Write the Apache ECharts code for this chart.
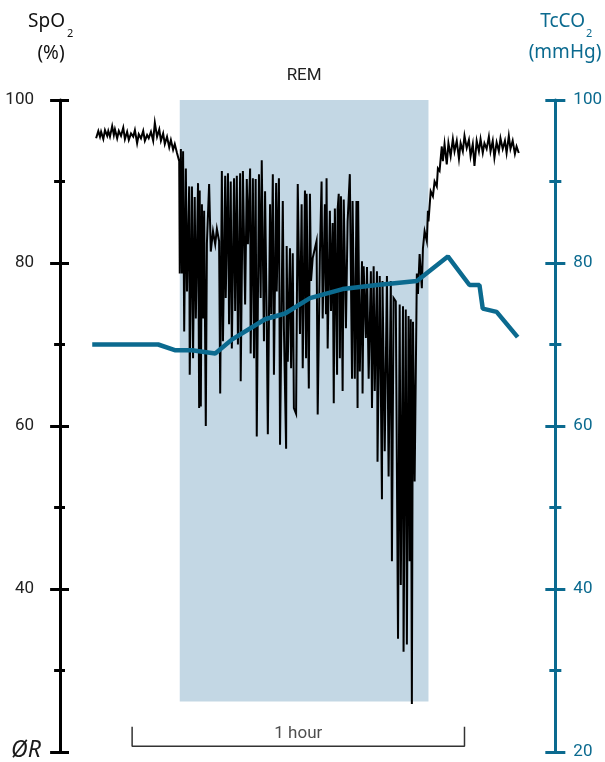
<!DOCTYPE html>
<html><head><meta charset="utf-8">
<script src="https://cdn.jsdelivr.net/npm/echarts@6/dist/echarts.min.js"></script>
<style>html,body{margin:0;padding:0;background:#fff}#c{width:605px;height:762px}</style>
</head><body><div id="c"></div>
<script>
// ---- data (time in minutes, SpO2 in %, TcCO2 in mmHg) ----
const yTickValues = [20, 40, 60, 80, 100];
const remPeriod = [21.6, 66.5];      // start / end of REM sleep (min)
const remLabel = 'REM';
const oneHourBar = [13, 73];         // scale bar: 60 minutes
const oneHourLabel = '1 hour';

const spo2PreRem = [[6.5,95.3],[6.9,96.2],[7.2,95.5],[7.4,96.1],[7.8,95.2],[8.1,96.3],[8.5,95.6],[8.7,96.2],[9.0,95.5],[9.4,96.8],[9.7,95.7],[9.9,96.4],[10.3,95.3],[10.6,96.2],[11.0,95.6],[11.4,96.6],[11.7,95.2],[12.1,96.1],[12.4,95.1],[12.8,95.9],[13.2,95.5],[13.5,96.3],[13.9,94.7],[14.2,95.8],[14.6,95.3],[15.0,96.2],[15.3,95.0],[15.7,95.7],[16.0,95.3],[16.4,96.1],[16.8,95.0],[17.1,97.2],[17.5,95.5],[17.9,96.4],[18.2,95.0],[18.6,95.9],[18.9,94.6],[19.3,95.5],[19.7,94.2],[20.0,95.1],[20.4,93.9],[20.7,94.6],[21.1,93.5],[21.3,93.7]];

const spo2Rem = [[21.5,92.5],[21.6,78.7],[21.8,94.0],[22.0,78.7],[22.2,93.7],[22.4,71.6],[22.7,91.6],[22.9,76.5],[23.3,89.4],[23.4,66.3],[23.8,89.4],[24.0,68.3],[24.3,88.1],[24.5,73.2],[24.9,89.8],[25.1,62.2],[25.2,88.9],[25.4,62.4],[25.6,87.2],[25.8,73.2],[26.0,86.4],[26.3,60.0],[26.5,82.4],[26.9,89.7],[27.2,81.4],[27.6,83.9],[28.0,82.3],[28.3,84.2],[28.7,82.7],[28.9,64.0],[29.2,91.3],[29.4,70.4],[29.8,90.7],[29.9,75.7],[30.3,91.0],[30.5,72.5],[30.8,90.0],[31.0,69.5],[31.4,90.4],[31.6,74.1],[31.9,90.7],[32.1,70.0],[32.5,91.0],[32.6,65.5],[33.0,91.3],[33.4,74.9],[33.7,90.3],[33.9,82.3],[34.3,91.6],[34.4,68.9],[34.8,90.4],[35.0,68.3],[35.3,90.3],[35.5,58.7],[35.9,90.9],[36.2,75.7],[36.4,92.6],[36.8,70.4],[37.0,88.8],[37.3,72.8],[37.5,59.0],[37.9,87.2],[38.1,73.7],[38.4,90.9],[38.6,66.3],[39.0,89.8],[39.1,76.5],[39.5,90.4],[39.7,57.7],[40.2,87.6],[40.4,72.0],[40.8,57.2],[40.9,82.1],[41.1,67.9],[41.5,81.8],[41.7,67.1],[42.0,81.2],[42.2,62.2],[42.6,61.5],[42.9,89.7],[43.3,71.3],[43.6,87.2],[43.8,67.1],[44.2,88.9],[44.4,68.3],[44.5,88.5],[44.9,64.6],[45.1,88.5],[45.3,77.8],[45.6,80.6],[46.0,81.8],[46.3,82.7],[46.5,61.4],[46.9,81.1],[47.2,90.0],[47.4,73.2],[47.8,87.2],[48.0,73.7],[48.1,90.4],[48.3,69.5],[48.7,86.4],[48.9,74.1],[49.2,84.9],[49.4,62.8],[49.6,86.7],[50.0,66.3],[50.1,86.6],[50.3,88.5],[50.5,68.3],[50.7,88.2],[51.0,64.3],[51.2,87.8],[51.6,72.0],[51.9,85.1],[52.3,90.9],[52.7,65.8],[52.8,87.6],[53.2,65.8],[53.5,87.6],[53.7,62.2],[53.8,87.6],[54.1,66.7],[54.5,80.2],[54.6,64.0],[54.8,79.6],[55.2,70.8],[55.4,79.5],[55.7,65.8],[56.1,79.0],[56.3,62.2],[56.6,79.6],[56.8,64.3],[57.2,79.0],[57.3,55.6],[57.7,78.4],[58.1,51.0],[58.2,77.8],[58.6,56.9],[59.0,78.4],[59.3,53.8],[59.7,77.8],[59.9,43.4],[60.2,75.7],[60.6,75.3],[61.0,33.9],[61.3,74.9],[61.5,40.5],[61.9,74.7],[62.0,32.3],[62.4,74.3],[62.6,33.2],[62.9,73.5],[63.1,43.4],[63.3,73.1],[63.5,25.9],[63.7,72.8],[64.0,53.2],[64.4,78.7],[64.6,76.2],[64.9,81.1],[65.3,76.9],[65.5,81.8],[65.8,83.9],[66.2,82.7],[66.4,86.4],[66.5,85.1],[66.9,88.8],[67.3,88.2],[67.6,90.0],[68.0,89.4],[68.2,91.6],[68.5,91.3],[68.9,94.3],[69.1,92.5],[69.4,94.6],[69.8,92.1]];

const spo2PostRem = [[70.1,94.7],[70.5,93.1],[70.9,95.2],[71.2,93.7],[71.6,95.0],[72.0,92.8],[72.3,94.7],[72.7,93.7],[73.0,95.6],[73.4,94.1],[73.8,95.1],[74.1,93.1],[74.5,94.6],[74.8,91.9],[75.2,95.0],[75.6,93.7],[75.9,95.2],[76.3,93.5],[76.6,94.7],[77.0,94.0],[77.4,95.5],[77.7,93.7],[78.1,95.0],[78.4,92.9],[78.8,94.8],[79.2,93.7],[79.5,95.3],[79.9,94.0],[80.3,95.0],[80.6,93.5],[81.0,95.6],[81.3,94.0],[81.7,95.0],[82.1,93.4],[82.4,94.3],[82.8,93.5]];

const tcco2 = [[5.8,70.0],[17.7,70.0],[20.7,69.3],[23.8,69.3],[28.0,68.9],[31.0,70.6],[37.0,73.1],[40.6,73.8],[45.1,75.7],[51.0,76.8],[57.2,77.3],[64.4,77.8],[70.0,80.8],[73.9,77.3],[75.7,77.3],[76.3,74.4],[78.8,74.0],[82.6,70.9]];

// ---- chart ----
const NARROW = '"Liberation Sans Narrow", "Roboto", sans-serif';
const SANS = '"Noto Sans", "Open Sans", sans-serif';
const BLACK = '#000000';
const TEAL = '#0b6a8f';
const SHADE = '#c3d7e4';

function yAxisDef(position, color, inside, showLabels, labelColor, margin) {
  return {
    type: 'value', position: position, min: 20, max: 100, interval: 20,
    axisLine: { show: !inside, lineStyle: { color: color, width: 3 } },
    axisTick: { show: true, inside: inside, length: 10, lineStyle: { color: color, width: 3 } },
    minorTick: { show: true, splitNumber: 2, length: 6, lineStyle: { color: color, width: 3 } },
    splitLine: { show: false }, minorSplitLine: { show: false },
    axisLabel: {
      show: showLabels, margin: margin, color: labelColor, fontFamily: NARROW, fontSize: 17,
      formatter: function (v) { return (position === 'left' && v === yTickValues[0]) ? '' : String(v); }
    }
  };
}

const chart = echarts.init(document.getElementById('c'));
chart.setOption({
  animation: false,
  grid: { left: 59, right: 49, top: 100, bottom: 10, containLabel: false },
  xAxis: { type: 'value', min: -0.2, max: 89.4, show: false },
  yAxis: [
    yAxisDef('left', BLACK, false, true, '#222', 25),
    yAxisDef('left', BLACK, true, false, '#222', 25),
    yAxisDef('right', TEAL, false, true, TEAL, 18),
    yAxisDef('right', TEAL, true, false, TEAL, 18)
  ],
  graphic: [
    { type: 'text', x: 65, y: 22, style: { text: 'SpO', font: '19px ' + SANS, fill: '#111', textAlign: 'right', textVerticalAlign: 'middle' } },
    { type: 'text', x: 67, y: 34, style: { text: '2', font: '11px ' + SANS, fill: '#111', textAlign: 'left', textVerticalAlign: 'middle' } },
    { type: 'text', x: 51, y: 54, style: { text: '(%)', font: '19px ' + SANS, fill: '#111', textAlign: 'center', textVerticalAlign: 'middle' } },
    { type: 'text', x: 585, y: 22, style: { text: 'TcCO', font: '19px ' + SANS, fill: TEAL, textAlign: 'right', textVerticalAlign: 'middle' } },
    { type: 'text', x: 586, y: 34, style: { text: '2', font: '11px ' + SANS, fill: TEAL, textAlign: 'left', textVerticalAlign: 'middle' } },
    { type: 'text', x: 565, y: 53, style: { text: '(mmHg)', font: '19px ' + SANS, fill: TEAL, textAlign: 'center', textVerticalAlign: 'middle' } },
    { type: 'text', x: 26, y: 750, style: { text: 'ØR', font: 'italic 23px ' + SANS, fill: '#1a1a1a', textAlign: 'center', textVerticalAlign: 'middle' } }
  ],
  series: [
    {
      name: 'REM', type: 'line', data: [], z: 1, clip: false, silent: true,
      markArea: {
        silent: true,
        itemStyle: { color: SHADE },
        label: { show: true, position: 'top', distance: 16, color: '#222', fontFamily: NARROW, fontSize: 17 },
        data: [[{ name: remLabel, xAxis: remPeriod[0], yAxis: 26.2 }, { xAxis: remPeriod[1], yAxis: 100 }]]
      }
    },
    {
      name: 'SpO2', type: 'line', yAxisIndex: 0, z: 3, symbol: 'none', silent: true,
      lineStyle: { color: BLACK, width: 2, join: 'miter' },
      data: spo2PreRem.concat(spo2Rem, spo2PostRem)
    },
    {
      name: 'TcCO2', type: 'line', yAxisIndex: 2, z: 4, symbol: 'none', silent: true,
      lineStyle: { color: TEAL, width: 4.5 },
      data: tcco2
    },
    {
      name: 'scale', type: 'line', yAxisIndex: 0, z: 3, symbol: 'none', silent: true,
      lineStyle: { color: '#333', width: 1.5 },
      data: [[oneHourBar[0], 23.1], [oneHourBar[0], 20.7], [oneHourBar[1], 20.7], [oneHourBar[1], 23.1]]
    },
    {
      name: 'scaleLabel', type: 'scatter', yAxisIndex: 0, z: 3, symbolSize: 1, silent: true,
      itemStyle: { color: 'rgba(0,0,0,0)' },
      label: { show: true, position: 'inside', formatter: oneHourLabel, color: '#222', fontFamily: NARROW, fontSize: 17 },
      data: [[(oneHourBar[0] + oneHourBar[1]) / 2, 22.3]]
    }
  ]
});
</script></body></html>
